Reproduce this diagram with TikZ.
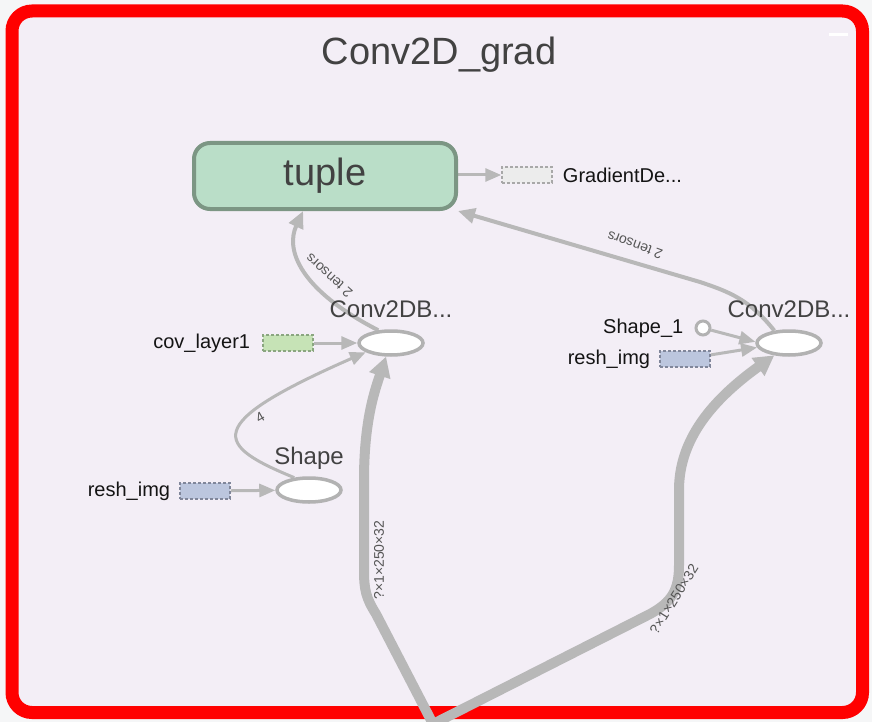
\documentclass[tikz,border=0pt]{standalone}
\usepackage{fontspec}
\setmainfont{Liberation Sans}
\usetikzlibrary{shapes}
\usetikzlibrary{positioning}
\usetikzlibrary{arrows.meta}
\definecolor{outerbg}{RGB}{245,246,247}
\definecolor{panelbg}{RGB}{243,238,246}
\definecolor{edgegray}{RGB}{184,184,184}
\definecolor{opline}{RGB}{178,178,178}
\definecolor{tuplefill}{RGB}{186,222,200}
\definecolor{tupleline}{RGB}{124,150,132}
\definecolor{covfill}{RGB}{198,227,182}
\definecolor{covline}{RGB}{138,166,128}
\definecolor{reshfill}{RGB}{188,198,222}
\definecolor{reshline}{RGB}{128,134,154}
\definecolor{gradfill}{RGB}{236,236,236}
\definecolor{gradline}{RGB}{168,168,168}
\definecolor{titletext}{RGB}{66,66,66}
\definecolor{nametext}{RGB}{20,20,20}
\definecolor{elabeltext}{RGB}{85,85,85}
\pgfdeclarelayer{back}
\pgfdeclarelayer{wires}
\pgfsetlayers{back,wires,main}
\tikzset{
    opnode/.style = {ellipse, line width=3.5pt, draw=opline, fill=white, minimum width=64pt, minimum height=24pt, inner sep=0pt},
    constnode/.style = {circle, line width=3pt, draw=opline, fill=white, minimum size=14pt, inner sep=0pt},
    tuplenode/.style = {rectangle, rounded corners=16pt, line width=4pt, draw=tupleline, fill=tuplefill, minimum width=262pt, minimum height=66pt, text=titletext, font=\fontsize{38}{40}\selectfont},
    inbox/.style = {rectangle, line width=1.5pt, dash pattern=on 3pt off 2pt, minimum width=50pt, minimum height=16pt, inner sep=0pt},
    inboxg/.style = {inbox, draw=covline, fill=covfill},
    inboxb/.style = {inbox, draw=reshline, fill=reshfill},
    inboxw/.style = {inbox, draw=gradline, fill=gradfill},
    namel/.style = {font=\fontsize{20}{22}\selectfont, text=nametext, inner sep=0pt},
    namet/.style = {font=\fontsize{24}{26}\selectfont, text=titletext, inner sep=0pt, text depth=0pt},
    elabel/.style = {font=\fontsize{14}{15}\selectfont, text=elabeltext, inner sep=0pt},
    edgen/.style = {-{Triangle[length=16pt,width=13pt]}, line width=3pt, draw=edgegray},
    edgem/.style = {-{Triangle[length=17pt,width=15pt]}, line width=4pt, draw=edgegray},
    edgew/.style = {-{Triangle[length=20pt,width=21pt]}, line width=10pt, draw=edgegray}
}
\begin{document}
\begin{tikzpicture}[x=1pt,y=-1pt]
  \useasboundingbox (0,0) rectangle (872,722);
  \begin{pgfonlayer}{back}
    \fill[outerbg] (0,0) rectangle (872,722);
    \draw[line width=13pt, draw=red, fill=panelbg, rounded corners=20pt] (12,11) rectangle (862.5,712.5);
    \draw[white, line width=3pt] (829,35) -- (848,35);
  \end{pgfonlayer}

  \node[font=\fontsize{38}{40}\selectfont, text=titletext] (title) at (439,55) {Conv2D\_grad};

  \node[tuplenode] (tuple) at (325,176) {tuple};
  \node[inboxw] (grad) at (527,175) {};
  \node[namel, right=10pt of grad] (gradname) {GradientDe...};

  \node[opnode] (conva) at (391,343) {};
  \node[namet, above=12pt of conva] (convaname) {Conv2DB...};
  \node[inboxg] (cov) at (288,343) {};
  \node[namel, left=12pt of cov] (covname) {cov\_layer1};
  \node[opnode] (shape) at (309,490) {};
  \node[namet, above=12pt of shape] (shapename) {Shape};
  \node[inboxb] (reshA) at (205,491) {};
  \node[namel, left=9pt of reshA] (reshAname) {resh\_img};

  \node[opnode] (convb) at (789,343) {};
  \node[namet, above=12pt of convb] (convbname) {Conv2DB...};
  \node[constnode] (shapeone) at (703,328) {};
  \node[namel, left=11pt of shapeone] (shapeonename) {Shape\_1};
  \node[inboxb] (reshB) at (685,359) {};
  \node[namel, left=9pt of reshB] (reshBname) {resh\_img};

  \coordinate (srcin) at (433,724);

  \begin{pgfonlayer}{wires}
    \draw[edgen] (tuple.east |- grad) -- (grad);
    \draw[edgen] (cov) -- (conva);
    \draw[edgen] (reshA) -- (shape);
    \draw[edgen] (shape.140) .. controls (215,445) and (200,425) .. (conva.200);
    \draw[edgem] (conva.135) .. controls (300,290) and (285,250) .. (tuple.238);
    \draw[edgem] (convb.140) .. controls (750,300) and (730,292) .. (700,282) -- (tuple.south east);
    \draw[edgen] (shapeone) -- (convb.178);
    \draw[edgen] (reshB) -- (convb.188);
    \draw[edgew] (srcin) -- (376,614) .. controls (366,598) and (364,590) .. (364,570) -- (364,480) .. controls (364,420) and (375,390) .. (conva.250);
    \draw[edgew] (srcin) -- (650,614) .. controls (672,602) and (679,590) .. (679,565) -- (679,490) .. controls (679,445) and (705,405) .. (convb.220);
  \end{pgfonlayer}

  \node[elabel, rotate=30] (lfour) at (260,417) {4};
  \node[elabel, rotate=138] (ltwoa) at (329,276) {2 tensors};
  \node[elabel, rotate=160] (ltwob) at (635,245) {2 tensors};
  \node[elabel, rotate=90] (lshapea) at (379,560) {?×1×250×32};
  \node[elabel, rotate=58] (lshapeb) at (674,599) {?×1×250×32};
\end{tikzpicture}
\end{document}
